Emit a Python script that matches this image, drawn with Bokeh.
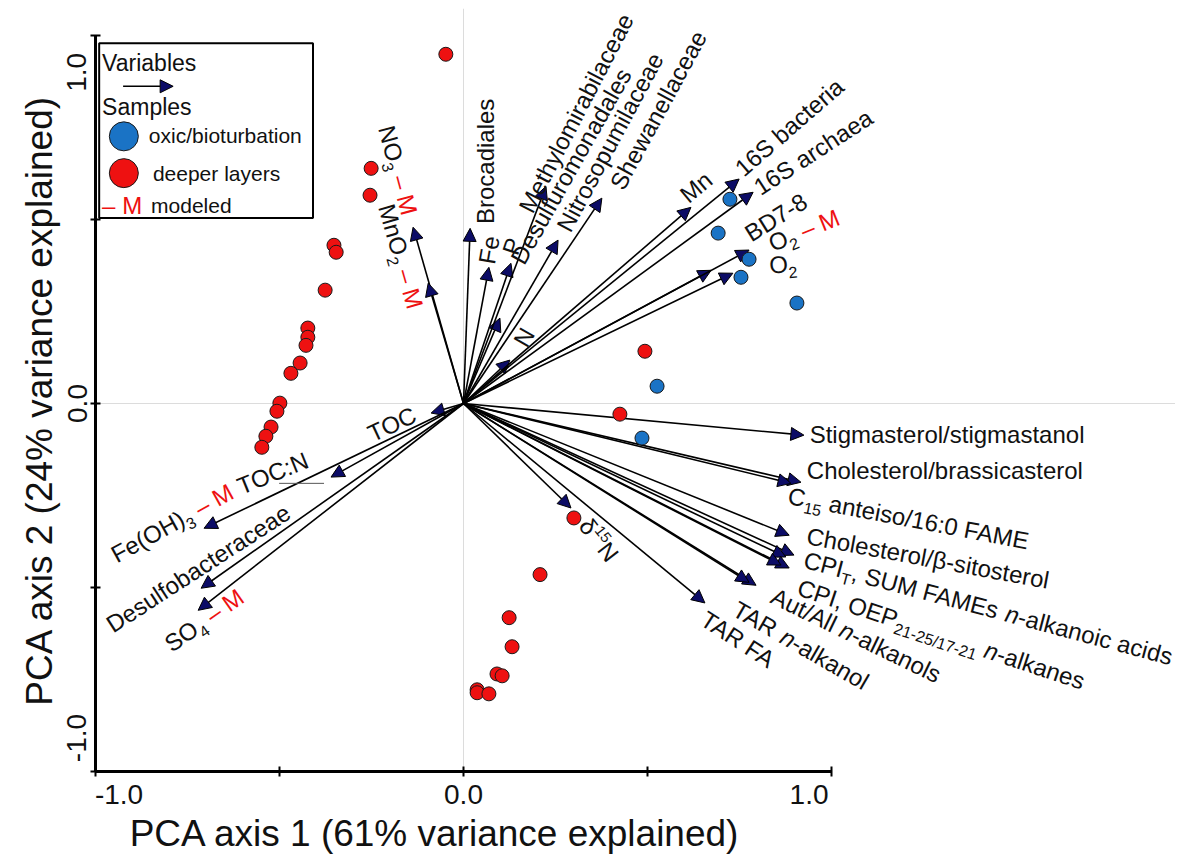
import math
from bokeh.plotting import figure
from bokeh.models import (Arrow, NormalHead, ColumnDataSource, FixedTicker, Range1d,
                          CustomJSTickFormatter)
from bokeh.core.properties import value
from bokeh.embed import file_html
from bokeh.resources import INLINE

# ---------------- data (PCA scores and loadings) ----------------
oxic_x = [0.724, 0.692, 0.776, 0.754, 0.906, 0.526, 0.485]
oxic_y = [0.555, 0.463, 0.392, 0.343, 0.273, 0.047, -0.094]

deep_x = [-0.048, -0.251, -0.254, -0.352, -0.346, -0.376, -0.423, -0.423, -0.428, -0.444,
          -0.469, -0.499, -0.507, -0.523, -0.537, -0.548,
          0.493, 0.425, 0.300, 0.208, 0.124, 0.132, 0.091, 0.105, 0.037, 0.037, 0.069]
deep_y = [0.949, 0.639, 0.566, 0.430, 0.411, 0.308, 0.205, 0.180, 0.158, 0.110,
          0.082, 0.001, -0.021, -0.064, -0.089, -0.119,
          0.142, -0.029, -0.311, -0.465, -0.582, -0.661, -0.735, -0.740, -0.778, -0.786, -0.789]

var_names = ["Brocadiales", "Fe", "P", "Desulfuromonadales", "Methylomirabilaceae",
             "Nitrosopumilaceae", "Shewanellaceae", "N", "Mn", "16S bacteria", "16S archaea",
             "BD7-8", "O2-M", "O2", "NO3-M", "MnO2-M", "TOC", "TOC:N", "Fe(OH)3-M",
             "Desulfobacteraceae", "SO4-M", "Stigmasterol/stigmastanol",
             "Cholesterol/brassicasterol", "C15 anteiso/16:0 FAME", "Cholesterol/b-sitosterol",
             "CPI_T n-alkanoic acids", "SUM FAMEs", "CPI n-alkanes", "OEP n-alkanes",
             "Aut/All n-alkanols", "TAR n-alkanol", "TAR FA", "d15N"]
var_x = [0.018, 0.069, 0.129, 0.099, 0.224, 0.257, 0.376, 0.126, 0.618, 0.749, 0.787,
         0.673, 0.776, 0.732, -0.137, -0.096, -0.088, -0.360, -0.705, -0.713, -0.721,
         0.925, 0.917, 0.890, 0.885, 0.898, 0.876, 0.885, 0.863, 0.795, 0.776, 0.656, 0.292]
var_y = [0.476, 0.370, 0.381, 0.232, 0.590, 0.444, 0.558, 0.118, 0.533, 0.610, 0.574,
         0.362, 0.417, 0.354, 0.479, 0.327, -0.026, -0.200, -0.339, -0.502, -0.562,
         -0.086, -0.214, -0.217, -0.358, -0.412, -0.417, -0.447, -0.439, -0.494, -0.486,
         -0.542, -0.284]

tick_marks = [-1.0, -0.5, 0.0, 0.5, 1.0]
tick_labels = ["-1.0", "0.0", "1.0"]
x_title = "PCA axis 1 (61% variance explained)"
y_title = "PCA axis 2 (24% variance explained)"

# ---------------- styles / layout ----------------
FONT = "Liberation Sans"
INK = "#111111"
RED = "#ee1111"
BLUE = "#1a73c5"
HEAD = "#0c0c66"
L, SUB, SUP = 24, 16, 15
# the outer tick labels sit inside the axis ends, as in the original figure
x_label_at = [-0.936, 0.0, 0.939]
y_label_at = [-0.909, 0.0, 0.900]


def n(t):
    return (t, L, INK, "normal", 0)


def sub(t):
    return (t, SUB, INK, "normal", 6)


def sup(t):
    return (t, SUP, INK, "normal", -10)


def it(t):
    return (t, L, INK, "italic", 0)


def mod():
    return (" \u2013 M", L, RED, "normal", 0)


# label texts (centre of text in data units, rotation in degrees)
label_x = [0.061, 0.069, 0.132, 0.292, 0.306, 0.398, 0.529, 0.164, 0.632, 0.885, 0.950,
           0.849, 0.925, 0.868, -0.178, -0.170, -0.194, -0.518, -0.792, -0.721, -0.705,
           1.314, 1.308, 1.211, 1.262, 1.426, 1.298, 1.067, 0.917, 0.749, 0.368]
label_y = [0.658, 0.417, 0.427, 0.645, 0.789, 0.710, 0.797, 0.180, 0.588, 0.751, 0.683,
           0.506, 0.471, 0.379, 0.634, 0.400, -0.056, -0.189, -0.325, -0.448, -0.589,
           -0.083, -0.181, -0.312, -0.420, -0.556, -0.627, -0.630, -0.657, -0.643, -0.371]
label_angle = [90, 80, 72, 60.6, 62.5, 61.8, 61.5, 60, 40, 41, 33,
               32, 22, 5, -75, -74, 25, 22, 29, 33, 35,
               0, 0, -10.8, -10.5, -14.9, -18.4, -26, -30, -33, -52]
label_parts = [
    [n("Brocadiales")], [n("Fe")], [n("P")], [n("Desulfuromonadales")],
    [n("Methylomirabilaceae")], [n("Nitrosopumilaceae")], [n("Shewanellaceae")],
    [n("N")], [n("Mn")], [n("16S bacteria")], [n("16S archaea")], [n("BD7-8")],
    [n("O"), sub("2"), mod()], [n("O"), sub("2")],
    [n("NO"), sub("3"), mod()], [n("MnO"), sub("2"), mod()],
    [n("TOC")], [n("TOC:N")], [n("Fe(OH)"), sub("3"), mod()],
    [n("Desulfobacteraceae")], [n("SO"), sub("4"), mod()],
    [n("Stigmasterol/stigmastanol")], [n("Cholesterol/brassicasterol")],
    [n("C"), sub("15"), n(" anteiso/16:0 FAME")],
    [n("Cholesterol/\u03b2-sitosterol")],
    [n("CPI"), sub("T"), n(", SUM FAMEs "), it("n"), n("-alkanoic acids")],
    [n("CPI, OEP"), sub("21-25/17-21"), n(" "), it("n"), n("-alkanes")],
    [n("Aut/All "), it("n"), n("-alkanols")],
    [n("TAR "), it("n"), n("-alkanol")],
    [n("TAR FA")],
    [n("\u03b4"), sup("15"), n("N")],
]

# Arial / Liberation Sans advance widths (em)
CW = {" ": .278, "/": .278, "-": .333, ":": .278, ",": .278, "(": .333, ")": .333,
      "\u2013": .556, "\u03b4": .556, "\u03b2": .575, "%": .889, ".": .278,
      "A": .667, "B": .667, "C": .722, "D": .722, "E": .667, "F": .611, "H": .722,
      "I": .278, "L": .556, "M": .833, "N": .722, "O": .778, "P": .667, "R": .722,
      "S": .667, "T": .611, "U": .722, "V": .667,
      "a": .556, "b": .556, "c": .5, "d": .556, "e": .556, "f": .278, "g": .556,
      "h": .556, "i": .222, "k": .5, "l": .222, "m": .833, "n": .556, "o": .556,
      "p": .556, "r": .333, "s": .5, "t": .278, "u": .556, "v": .5, "w": .722,
      "x": .5, "y": .5}


def text_w(s, size):
    return sum(CW.get(ch, 0.556) for ch in s) * size


# ---------------- figure ----------------
FW, FH = 1080, 763
S = 368.0  # pixels per PCA unit (same on both axes)
p = figure(frame_width=FW, frame_height=FH,
           x_range=Range1d(-1.0, -1.0 + FW / S), y_range=Range1d(-1.0, -1.0 + FH / S),
           output_backend="svg", toolbar_location=None,
           min_border_left=95, min_border_right=0, min_border_top=8, min_border_bottom=92,
           outline_line_color=None, background_fill_color="white", border_fill_color="white")

fmt = CustomJSTickFormatter(args=dict(labels=tick_labels),
                            code="return tick < -0.5 ? labels[0] : (tick > 0.5 ? labels[2] : labels[1]);")
NBSP = "\u00a0"
for ax, at in ((p.xaxis[0], x_label_at), (p.yaxis[0], y_label_at)):
    ax.bounds = (-1, 1)
    ax.ticker = FixedTicker(ticks=at, minor_ticks=tick_marks)
    ax.formatter = fmt
    ax.axis_line_width = 3
    ax.axis_line_color = "black"
    ax.major_tick_line_color = None
    ax.major_tick_in = 5
    ax.major_tick_out = 5
    ax.minor_tick_line_width = 2
    ax.minor_tick_line_color = "black"
    ax.minor_tick_in = 5
    ax.minor_tick_out = 5
    ax.major_label_text_font = FONT
    ax.major_label_text_font_size = "28px"
    ax.major_label_text_color = INK
    ax.major_label_standoff = 8
    ax.axis_label_text_font = FONT
    ax.axis_label_text_font_size = "37px"
    ax.axis_label_text_font_style = "normal"
    ax.axis_label_text_color = INK
    ax.axis_label_standoff = 6

# axis titles are centred on the plotted -1..1 span, as in the original figure
p.xaxis[0].axis_label = x_title + NBSP * 39
p.yaxis[0].axis_label = y_title + NBSP * 2
p.yaxis[0].major_label_orientation = "vertical"
p.yaxis[0].major_label_standoff = 4
p.yaxis[0].axis_label_standoff = 5

for g in (p.xgrid[0], p.ygrid[0]):
    g.ticker = FixedTicker(ticks=[0.0])
    g.bounds = (-1, 1)
    g.grid_line_color = "#dcdcdc"
    g.grid_line_width = 1

# variable arrows
src = ColumnDataSource(dict(x0=[0.0] * len(var_x), y0=[0.0] * len(var_y), x1=var_x, y1=var_y, name=var_names))
p.add_layout(Arrow(x_start="x0", y_start="y0", x_end="x1", y_end="y1", source=src,
                   line_color="black", line_width=1.6, level="underlay",
                   end=NormalHead(size=13, fill_color=HEAD, line_color="black", line_width=1)))

# leader line next to TOC:N label
p.segment(x0=[-0.501], y0=[-0.217], x1=[-0.379], y1=[-0.217], line_color="#555555", line_width=1)

# sample scores
p.scatter(oxic_x, oxic_y, size=14, fill_color=BLUE, line_color="#1a1a1a", line_width=1)
p.scatter(deep_x, deep_y, size=14, fill_color=RED, line_color="#1a1a1a", line_width=1)


def draw_label(cx, cy, ang, parts):
    th = math.radians(ang)
    dx, dy = math.cos(th), math.sin(th)
    ux, uy = -math.sin(th), math.cos(th)
    total = sum(text_w(pt[0], pt[1]) for pt in parts)
    base = parts[0][1]
    bx = cx * S - total / 2 * dx - 0.35 * base * ux
    by = cy * S - total / 2 * dy - 0.35 * base * uy
    pos = 0.0
    for t, sz, col, sty, sh in parts:
        lead = len(t) - len(t.lstrip(" "))
        off = pos + text_w(" " * lead, sz)
        txt = t.strip(" ")
        if txt:
            k = 0.35 * sz - sh
            px_ = bx + off * dx + k * ux
            py_ = by + off * dy + k * uy
            p.text(x=[px_ / S], y=[py_ / S], text=[txt], angle=th,
                   text_font=value(FONT), text_font_size=f"{sz}px", text_color=col,
                   text_font_style=sty, text_align="left", text_baseline="middle")
        pos += text_w(t, sz)


for cx, cy, ang, parts in zip(label_x, label_y, label_angle, label_parts):
    draw_label(cx, cy, ang, parts)

# ---------------- legend box ----------------
p.quad(left=[-0.990], right=[-0.409], top=[0.979], bottom=[0.504],
       fill_color="white", line_color="black", line_width=2)


def legend_text(x, y, t, size, col=INK):
    p.text(x=[x], y=[y], text=[t], text_font=value(FONT), text_font_size=f"{size}px",
           text_color=col, text_align="left", text_baseline="middle")


legend_text(-0.982, 0.925, "Variables", 23)
p.add_layout(Arrow(x_start=-0.925, y_start=0.862, x_end=-0.789, y_end=0.862, line_color="black",
                   line_width=1.6, end=NormalHead(size=13, fill_color=HEAD, line_color="black", line_width=1)))
legend_text(-0.982, 0.805, "Samples", 23)
p.scatter([-0.923], [0.726], size=29, fill_color=BLUE, line_color="#1a1a1a", line_width=1)
p.scatter([-0.923], [0.626], size=29, fill_color=RED, line_color="#1a1a1a", line_width=1)
legend_text(-0.855, 0.729, "oxic/bioturbation", 21)
legend_text(-0.844, 0.626, "deeper layers", 21)
legend_text(-0.982, 0.539, "\u2013 M", 24, RED)
legend_text(-0.849, 0.539, "modeled", 21)

open("out.html", "w").write(file_html(p, INLINE))
